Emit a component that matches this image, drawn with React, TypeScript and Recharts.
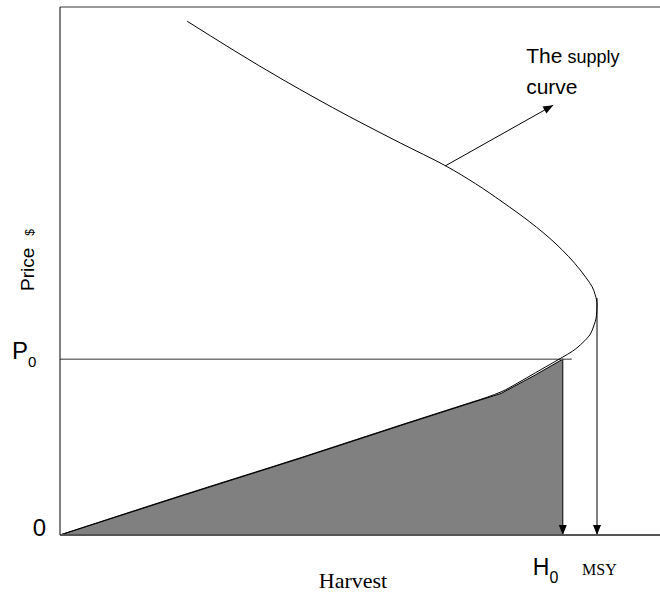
import { Area, ComposedChart, Line, ReferenceLine, XAxis, YAxis } from "recharts";

// supply curve traced from the top end, round the MSY bend, back down to the origin
const curveHarvest = [21.2, 37.2, 48.3, 56.8, 64.3, 69.3, 73.7, 78.3, 82.5, 84.8, 86.7, 87.7, 88.7, 89.2, 89.5, 89.4, 88.9, 88.3, 87.1, 85.4, 83.8, 81.5, 79.2, 76.3, 73.5, 71.2, 68.2, 56.7, 40.0, 20.0, 0];
const curvePrice = [97.3, 86.2, 79.2, 74.2, 69.9, 66.5, 63.1, 59.3, 55.3, 52.7, 50.2, 48.7, 47.0, 45.5, 43.6, 41.5, 39.4, 37.9, 36.4, 34.8, 33.7, 32.2, 30.7, 28.8, 27.1, 26.1, 25.0, 20.8, 14.6, 7.4, 0];

// grey region under the lower branch, up to (H0, P0)
const shadeHarvest = [0, 20, 40, 56.7, 68.2, 73.5, 79.2, 81.5, 83.8];
const shadePrice = [0, 7.3, 14.5, 20.7, 24.9, 26.8, 30.3, 31.8, 33.3];

const P0 = 33.3;
const H0 = 83.8;
const MSY = 89.5;
const MSY_PRICE = 44.9;
const P0_LINE_END = 85.3;
const pointer = [
  { x: 64.2, y: 69.9 },
  { x: 82.2, y: 81.4 },
];

const curve = curveHarvest.map((h, i) => ({ h, p: curvePrice[i] }));
const shaded = shadeHarvest.map((h, i) => ({ h, p: shadePrice[i] }));

type Seg = { x1: number; y1: number; x2: number; y2: number };

function arrowHead(s: Seg, len = 10, half = 4) {
  const dx = s.x2 - s.x1;
  const dy = s.y2 - s.y1;
  const d = Math.hypot(dx, dy) || 1;
  const ux = dx / d;
  const uy = dy / d;
  const bx = s.x2 - ux * len;
  const by = s.y2 - uy * len;
  return `${s.x2},${s.y2} ${bx - uy * half},${by + ux * half} ${bx + uy * half},${by - ux * half}`;
}

function Arrow(props: any) {
  const { x1, y1, x2, y2 } = props;
  return (
    <g>
      <line x1={x1} y1={y1} x2={x2} y2={y2} stroke="#000" strokeWidth={1} />
      <polygon points={arrowHead({ x1, y1, x2, y2 })} fill="#000" />
    </g>
  );
}

function PointerWithText(props: any) {
  const { x2, y2 } = props;
  return (
    <g>
      <Arrow {...props} />
      <text x={x2 - 27} y={y2 - 42} fontFamily="Liberation Sans, Arial, sans-serif" fontSize={21} fill="#000">
        The<tspan fontSize={18}> supply</tspan>
      </text>
      <text x={x2 - 27} y={y2 - 11} fontFamily="Liberation Sans, Arial, sans-serif" fontSize={21} fill="#000">
        curve
      </text>
    </g>
  );
}

function PriceTick(props: any) {
  const { y, payload } = props;
  const sans = "Liberation Sans, Arial, sans-serif";
  if (payload.value === 0) {
    return (
      <text x={46} y={y + 1} textAnchor="end" fontFamily={sans} fontSize={24} fill="#000">
        0
      </text>
    );
  }
  return (
    <text x={12} y={y} fontFamily={sans} fontSize={24} fill="#000">
      P<tspan fontSize={15} dy={8}>0</tspan>
    </text>
  );
}

function HarvestTick(props: any) {
  const { x, y, payload } = props;
  if (payload.value === H0) {
    return (
      <text x={x - 30} y={y + 32} fontFamily="Liberation Sans, Arial, sans-serif" fontSize={23} fill="#000">
        H<tspan fontSize={16} dy={8}>0</tspan>
      </text>
    );
  }
  return (
    <text x={x - 15} y={y + 32} fontFamily="Liberation Serif, Times New Roman, serif" fontSize={16} fill="#000">
      MSY
    </text>
  );
}

function PriceLabel(props: any) {
  const { viewBox } = props;
  const cx = viewBox.x + 34;
  const cy = viewBox.y + 253;
  return (
    <text
      x={cx}
      y={cy}
      transform={`rotate(-90, ${cx}, ${cy})`}
      textAnchor="middle"
      fontFamily="Liberation Sans, Arial, sans-serif"
      fontSize={19}
      fill="#000"
    >
      Price<tspan fontSize={12} dx={12}>$</tspan>
    </text>
  );
}

function HarvestLabel(props: any) {
  const { viewBox } = props;
  return (
    <text
      x={viewBox.x + 293}
      y={viewBox.y + 53}
      textAnchor="middle"
      fontFamily="Liberation Serif, Times New Roman, serif"
      fontSize={22}
      fill="#000"
    >
      Harvest
    </text>
  );
}

export default function App() {
  return (
    <div style={{ position: "absolute", left: 0, top: 0, background: "#fff" }}>
      <ComposedChart width={660} height={604} margin={{ top: 7, right: 0, bottom: 0, left: 0 }}>
        <XAxis
          type="number"
          dataKey="h"
          domain={[0, 100]}
          allowDataOverflow
          ticks={[H0, MSY]}
          tick={<HarvestTick />}
          tickLine={false}
          height={69}
          axisLine={{ stroke: "#555", strokeWidth: 2 }}
          label={<HarvestLabel />}
        />
        <YAxis
          type="number"
          dataKey="p"
          domain={[0, 100]}
          allowDataOverflow
          ticks={[0, P0]}
          tick={<PriceTick />}
          tickLine={false}
          width={60}
          axisLine={{ stroke: "#000", strokeWidth: 1 }}
          label={<PriceLabel />}
        />
        <ReferenceLine y={100} stroke="#777" strokeWidth={1.5} />
        <Area
          data={shaded}
          dataKey="p"
          type="linear"
          fill="#808080"
          fillOpacity={1}
          stroke="#000"
          strokeWidth={1}
          isAnimationActive={false}
        />
        <ReferenceLine
          segment={[
            { x: 0, y: P0 },
            { x: P0_LINE_END, y: P0 },
          ]}
          stroke="#777"
          strokeWidth={1.5}
        />
        <Line
          data={curve}
          dataKey="p"
          type="monotoneY"
          stroke="#000"
          strokeWidth={1}
          dot={false}
          isAnimationActive={false}
        />
        <ReferenceLine
          segment={[
            { x: H0, y: P0 },
            { x: H0, y: 0 },
          ]}
          shape={Arrow}
        />
        <ReferenceLine
          segment={[
            { x: MSY, y: MSY_PRICE },
            { x: MSY, y: 0 },
          ]}
          shape={Arrow}
        />
        <ReferenceLine segment={pointer} shape={PointerWithText} />
      </ComposedChart>
    </div>
  );
}
